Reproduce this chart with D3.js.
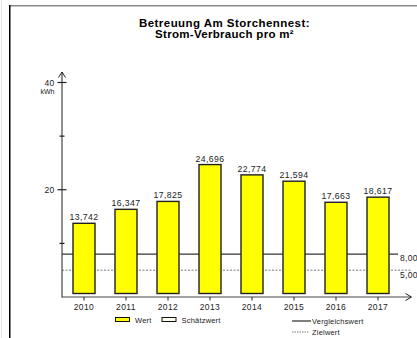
<!DOCTYPE html>
<html><head><meta charset="utf-8">
<script src="https://cdn.jsdelivr.net/npm/d3@7"></script>
<style>
html,body{margin:0;padding:0;background:#fff;}
svg{display:block;font-family:"Liberation Sans",Arial,sans-serif;}
</style></head>
<body>
<svg id="chart" width="417" height="338"></svg>
<script>
const titleLines = ["Betreuung Am Storchennest:", "Strom-Verbrauch pro m²"];
const years = ["2010","2011","2012","2013","2014","2015","2016","2017"];
const values = [13.742, 16.347, 17.825, 24.696, 22.774, 21.594, 17.663, 18.617];
const valueLabels = ["13,742","16,347","17,825","24,696","22,774","21,594","17,663","18,617"];
const yMajorTicks = [20, 40];
const yMinorTicks = [10, 30];
const unitLabel = "kWh";
const refValues = [8, 5];
const refLabels = ["8,00", "5,00"];
const legendLabels = ["Wert", "Schätzwert", "Vergleichswert", "Zielwert"];

const svg = d3.select("#chart");

// frame
svg.append("line").attr("x1",1.5).attr("x2",1.5).attr("y1",0).attr("y2",338).attr("stroke","#e2e2e2").attr("stroke-width",1);
svg.append("line").attr("x1",9).attr("x2",417).attr("y1",5.75).attr("y2",5.75).attr("stroke","#888").attr("stroke-width",1.5);
svg.append("line").attr("x1",9.75).attr("x2",9.75).attr("y1",5).attr("y2",338).attr("stroke","#000").attr("stroke-width",1.5);

// title
svg.append("text").attr("x",224.5).attr("y",27).attr("text-anchor","middle")
  .attr("font-size","11.5px").attr("font-weight","bold").attr("letter-spacing","0.45px").text(titleLines[0]);
svg.append("text").attr("x",224.5).attr("y",37.5).attr("text-anchor","middle")
  .attr("font-size","11.5px").attr("font-weight","bold").attr("letter-spacing","0.3px").text(titleLines[1]);

const axisX = 62;
const y = d3.scaleLinear().domain([0,40]).range([297,82.5]);
const x = d3.scaleBand().domain(years).range([63,399]).paddingInner(0.476).paddingOuter(0.238);

// reference lines
svg.append("line").attr("x1",axisX).attr("x2",398).attr("y1",y(refValues[0])).attr("y2",y(refValues[0]))
  .attr("stroke","#000").attr("stroke-width",1);
svg.append("line").attr("x1",axisX).attr("x2",411).attr("y1",y(refValues[1])).attr("y2",y(refValues[1]))
  .attr("stroke","#555").attr("stroke-width",0.8).attr("stroke-dasharray","2,1.5");
refValues.forEach((v,i)=>{
  svg.append("text").attr("x",400).attr("y",y(v)+ (i===0?7:8)).attr("font-size","8.5px").attr("letter-spacing","0.3px").attr("fill","#222").text(refLabels[i]);
});

// bars
svg.selectAll("rect.bar").data(values).join("rect").attr("class","bar")
  .attr("x",(d,i)=>x(years[i])).attr("width",x.bandwidth())
  .attr("y",d=>y(d)).attr("height",d=>y(0)-3.5-y(d))
  .attr("fill","#ffff00").attr("stroke","#222").attr("stroke-width",1.4);

svg.selectAll("text.val").data(values).join("text").attr("class","val")
  .attr("x",(d,i)=>x(years[i])+x.bandwidth()/2).attr("y",d=>y(d)-3)
  .attr("text-anchor","middle").attr("font-size","8.7px").attr("letter-spacing","0.4px").attr("fill","#222")
  .text((d,i)=>valueLabels[i]);

// y axis
const gy = svg.append("g");
gy.append("line").attr("x1",axisX).attr("x2",axisX).attr("y1",297.5).attr("y2",72).attr("stroke","#444").attr("stroke-width",1.2);
gy.append("path").attr("d",`M${axisX-3.5},${77.5} L${axisX},${72} L${axisX+3.5},${77.5}`).attr("fill","none").attr("stroke","#222").attr("stroke-width",1);
yMajorTicks.forEach(t=>{
  gy.append("line").attr("x1",axisX-4.5).attr("x2",axisX+4.5).attr("y1",y(t)).attr("y2",y(t)).attr("stroke","#222").attr("stroke-width",1.2);
  gy.append("text").attr("x",axisX-7.5).attr("y",y(t)+3).attr("text-anchor","end").attr("font-size","8.5px").attr("letter-spacing","0.3px").attr("fill","#222").text(t);
});
yMinorTicks.forEach(t=>{
  gy.append("line").attr("x1",axisX-2.5).attr("x2",axisX+2.5).attr("y1",y(t)).attr("y2",y(t)).attr("stroke","#222").attr("stroke-width",1.2);
});
gy.append("text").attr("x",axisX-7.5).attr("y",y(40)+11).attr("text-anchor","end").attr("font-size","7px").attr("fill","#222").text(unitLabel);

// x axis
const gx = svg.append("g");
gx.append("line").attr("x1",axisX).attr("x2",411).attr("y1",y(0)).attr("y2",y(0)).attr("stroke","#444").attr("stroke-width",1.2);
gx.append("path").attr("d",`M${405.5},${y(0)-3.5} L${411.5},${y(0)} L${405.5},${y(0)+3.5}`).attr("fill","none").attr("stroke","#222").attr("stroke-width",1);
years.forEach(yr=>{
  const cx = x(yr)+x.bandwidth()/2;
  gx.append("line").attr("x1",cx).attr("x2",cx).attr("y1",y(0)).attr("y2",y(0)+3.5).attr("stroke","#222").attr("stroke-width",1);
  gx.append("text").attr("x",cx).attr("y",310).attr("text-anchor","middle").attr("font-size","8.5px").attr("letter-spacing","0.4px").attr("fill","#222").text(yr);
});

// legend
const lg = svg.append("g");
lg.append("rect").attr("x",115.5).attr("y",317.5).attr("width",14).attr("height",4).attr("fill","#ffff00").attr("stroke","#111").attr("stroke-width",1);
lg.append("text").attr("x",135).attr("y",323).attr("font-size","7.5px").attr("letter-spacing","0.2px").attr("fill","#222").text(legendLabels[0]);
lg.append("rect").attr("x",162).attr("y",317.5).attr("width",14).attr("height",4).attr("fill","#fffff0").attr("stroke","#111").attr("stroke-width",1);
lg.append("text").attr("x",181.5).attr("y",323).attr("font-size","7.5px").attr("letter-spacing","0.2px").attr("fill","#222").text(legendLabels[1]);
lg.append("line").attr("x1",292).attr("x2",311).attr("y1",321).attr("y2",321).attr("stroke","#000").attr("stroke-width",1);
lg.append("text").attr("x",312).attr("y",324).attr("font-size","7.5px").attr("letter-spacing","0.2px").attr("fill","#222").text(legendLabels[2]);
lg.append("line").attr("x1",292).attr("x2",309).attr("y1",332).attr("y2",332).attr("stroke","#555").attr("stroke-width",0.8).attr("stroke-dasharray","1.5,1");
lg.append("text").attr("x",312).attr("y",335).attr("font-size","7.5px").attr("letter-spacing","0.2px").attr("fill","#222").text(legendLabels[3]);
</script>
</body></html>
